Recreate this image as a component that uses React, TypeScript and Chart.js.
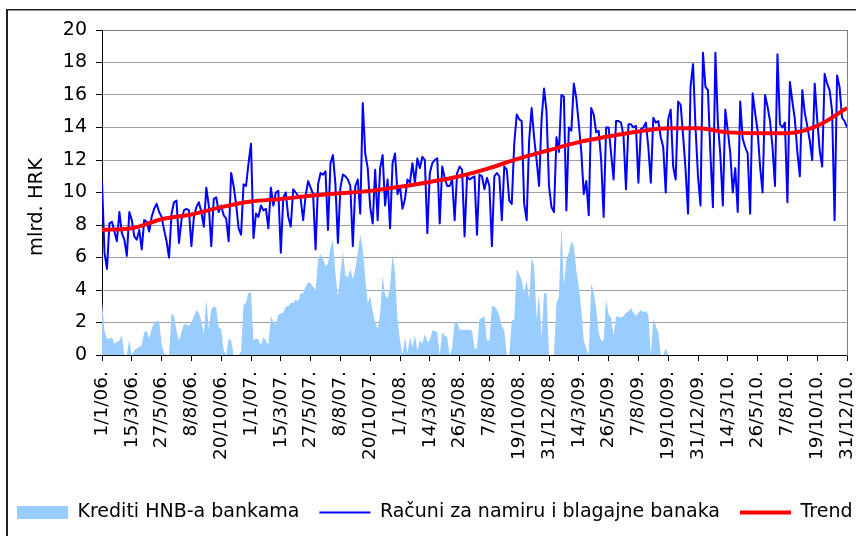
import { useEffect, useRef } from "react";
import { Chart, registerables } from "chart.js";

Chart.register(...registerables);

// x-axis tick labels: one every 73 days from 1/1/06 to 31/12/10
const tickLabels = [
  "1/1/06.", "15/3/06.", "27/5/06.", "8/8/06.", "20/10/06.",
  "1/1/07.", "15/3/07.", "27/5/07.", "8/8/07.", "20/10/07.",
  "1/1/08.", "14/3/08.", "26/5/08.", "7/8/08.", "19/10/08.",
  "31/12/08.", "14/3/09.", "26/5/09.", "7/8/09.", "19/10/09.",
  "31/12/09.", "14/3/10.", "26/5/10.", "7/8/10.", "19/10/10.",
  "31/12/10.",
];

const TICK_DAYS = 73;
const SAMPLES_PER_TICK = 12;

// Računi za namiru i blagajne banaka (mlrd. HRK), 12 readings per tick interval
const racuni = [
  10.7, 6.3, 5.3, 8.1, 8.2, 7.6, 7.0, 8.8, 7.5, 7.1, 6.1, 8.8,
  8.3, 7.3, 7.1, 7.7, 6.5, 8.3, 8.2, 7.6, 8.5, 9.0, 9.3, 8.8,
  8.5, 7.7, 7.0, 6.0, 8.7, 9.4, 9.5, 6.9, 8.3, 8.9, 9.0, 8.9,
  6.7, 8.5, 9.1, 9.4, 8.8, 7.9, 10.3, 9.2, 6.7, 9.6, 9.7, 8.8,
  9.2, 8.6, 8.4, 7.0, 11.2, 10.4, 9.3, 7.8, 7.4, 10.5, 10.4, 11.8,
  13.0, 7.2, 8.7, 8.5, 9.2, 8.9, 9.0, 7.8, 10.3, 9.2, 10.0, 10.1,
  6.3, 9.7, 10.0, 8.5, 7.9, 10.2, 10.0, 9.8, 9.6, 8.3, 9.8, 10.7,
  10.3, 9.9, 6.5, 10.5, 11.2, 11.1, 11.3, 7.7, 11.8, 12.3, 10.5, 6.9,
  10.3, 11.1, 11.0, 10.8, 10.4, 6.7, 10.4, 10.8, 8.7, 15.5, 12.4, 11.5,
  9.1, 8.1, 11.4, 8.3, 11.5, 12.3, 9.2, 10.8, 7.8, 11.8, 12.4, 9.9,
  10.4, 9.0, 9.6, 10.8, 10.6, 11.8, 10.6, 12.1, 11.5, 12.2, 12.0, 7.5,
  11.2, 11.8, 12.0, 12.1, 8.1, 11.6, 10.9, 10.4, 10.4, 10.8, 8.3, 11.2,
  11.6, 11.4, 7.3, 11.0, 10.8, 10.9, 11.0, 7.4, 11.1, 11.0, 10.2, 10.9,
  10.4, 6.7, 11.0, 11.2, 11.0, 8.3, 11.6, 11.4, 9.5, 9.3, 13.0, 14.8,
  14.5, 14.4, 9.3, 8.3, 13.2, 15.2, 13.4, 12.0, 10.4, 14.5, 16.4, 15.0,
  10.4, 9.1, 8.8, 13.4, 12.5, 16.0, 15.9, 8.9, 14.0, 13.8, 16.7, 15.8,
  14.2, 12.5, 9.9, 10.7, 8.6, 15.2, 14.8, 13.7, 13.8, 12.0, 8.5, 14.0,
  14.0, 12.4, 10.8, 14.4, 14.4, 14.3, 13.5, 10.2, 14.2, 14.2, 14.0, 14.1,
  10.6, 13.9, 14.0, 14.3, 12.8, 10.6, 14.6, 14.3, 14.4, 13.4, 12.8, 10.0,
  14.5, 15.1, 11.6, 10.8, 15.6, 15.4, 13.5, 11.4, 8.7, 16.5, 17.9, 14.0,
  11.0, 9.2, 18.6, 16.5, 16.3, 12.4, 9.1, 18.6, 14.3, 12.3, 9.2, 15.1,
  13.8, 12.4, 10.0, 11.5, 8.8, 15.6, 13.3, 12.8, 12.4, 8.7, 16.1, 14.9,
  13.8, 11.6, 10.0, 16.0, 15.3, 14.4, 12.8, 10.4, 18.5, 14.2, 14.0, 14.3,
  9.4, 16.8, 15.6, 14.5, 12.5, 11.0, 16.3, 14.9, 14.1, 13.2, 12.0, 16.7,
  14.5, 12.6, 11.6, 17.3, 16.7, 16.3, 15.0, 8.3, 17.2, 16.5, 14.6, 14.4,
  14.0,
];

// Krediti HNB-a bankama (mlrd. HRK), 12 readings per tick interval, until 19/10/09
const krediti = [
  3.3, 1.5, 1.0, 1.0, 1.1, 0.7, 0.8, 0.9, 1.2, 0, 0, 0.9,
  0, 0.3, 0.4, 0.5, 0.6, 1.4, 1.5, 1.0, 1.6, 2.0, 2.1, 2.1,
  0.7, 0.1, 0, 0, 2.55, 2.4, 1.5, 0.9, 1.4, 1.9, 1.9, 1.8,
  2.0, 2.4, 2.75, 2.6, 2.1, 1.3, 3.4, 1.6, 2.8, 3.0, 2.9, 1.7,
  1.6, 0.3, 0, 1.0, 0.9, 0, 0, 0, 0.2, 3.1, 3.2, 3.85,
  3.85, 0.9, 1.0, 0.95, 0.6, 1.1, 0.9, 0.6, 2.4, 2.0, 1.9, 2.5,
  2.55, 2.6, 3.0, 3.0, 3.2, 3.2, 3.4, 3.3, 3.8, 3.8, 4.2, 4.5,
  4.4, 4.2, 4.0, 5.9, 6.2, 5.9, 5.5, 5.6, 6.6, 7.1, 5.0, 3.6,
  5.0, 6.4, 4.9, 4.8, 5.3, 4.7, 5.3, 6.3, 7.4, 6.5, 4.8, 3.2,
  3.6, 2.7, 2.0, 1.6, 2.5, 4.9, 3.7, 3.5, 4.2, 6.2, 5.0, 2.2,
  0.9, 0, 1.1, 0.1, 1.1, 0.5, 1.2, 0.3, 0.9, 0.7, 1.3, 0.8,
  0.9, 1.5, 1.5, 1.4, 0, 1.4, 1.2, 1.1, 0, 0.4, 2.0, 2.1,
  1.55, 1.55, 1.55, 1.55, 1.55, 1.5, 0.4, 0.4, 2.2, 2.3, 2.4, 0.9,
  0.9, 3.0, 3.0, 2.8, 2.4, 1.8, 1.5, 0, 0, 2.1, 2.2, 5.3,
  5.0, 4.6, 3.8, 4.6, 3.4, 6.0, 5.5, 2.2, 3.8, 1.1, 3.8, 3.8,
  0, 0, 0, 3.2, 3.6, 8.0, 4.3, 5.9, 6.3, 7.0, 6.7, 5.2,
  4.2, 2.8, 0.9, 0.4, 0, 4.4, 3.9, 2.8, 1.4, 0.9, 0.9, 3.4,
  2.5, 2.3, 1.2, 2.35, 2.35, 2.3, 2.4, 2.6, 2.7, 2.9, 2.6, 2.4,
  2.6, 2.75, 2.65, 2.7, 2.5, 0, 2.2, 1.8, 1.4, 0, 0, 0.4,
  0,
];

// Trend, one reading per tick date
const trend = [
  7.7, 7.8, 8.35, 8.65, 9.1, 9.45, 9.6, 9.8, 9.95, 10.1,
  10.35, 10.65, 11.0, 11.5, 12.1, 12.6, 13.1, 13.45, 13.75, 13.95,
  13.95, 13.7, 13.65, 13.65, 14.1, 15.2,
];

const FONT = "'DejaVu Sans', 'Liberation Sans', Arial, sans-serif";
const OX = 3; // canvas is shifted 3px to the left of the page

const framePlugin = {
  id: "frame",
  afterDraw(chart: any) {
    const ctx = chart.ctx as CanvasRenderingContext2D;
    ctx.save();
    ctx.fillStyle = "#222";
    ctx.fillRect(OX + 6, 9, 2, chart.height);
    ctx.fillRect(OX + 6, 9, chart.width, 1.5);
    ctx.translate(OX + 37, 207);
    ctx.rotate(-Math.PI / 2);
    ctx.font = `19.5px ${FONT}`;
    ctx.fillStyle = "#000";
    ctx.textAlign = "center";
    ctx.textBaseline = "middle";
    ctx.fillText("mlrd. HRK", 0, 0);
    ctx.restore();
  },
};

export default function App() {
  const ref = useRef<HTMLCanvasElement | null>(null);

  useEffect(() => {
    if (!ref.current) return;
    const step = TICK_DAYS / SAMPLES_PER_TICK;
    const racuniPts = racuni.map((y, i) => ({ x: i * step, y }));
    const kreditiPts = krediti.map((y, i) => ({ x: i * step, y }));
    const trendPts = trend.map((y, i) => ({ x: i * TICK_DAYS, y }));

    const chart = new Chart(ref.current, {
      type: "line",
      data: {
        datasets: [
          {
            label: "Krediti HNB-a bankama",
            data: kreditiPts,
            fill: "origin",
            backgroundColor: "#99CCFF",
            borderColor: "#99CCFF",
            borderWidth: 0,
            pointRadius: 0,
            pointStyle: "rect",
            order: 3,
          },
          {
            label: "Računi za namiru i blagajne banaka",
            data: racuniPts,
            fill: false,
            borderColor: "#0000FF",
            backgroundColor: "#0000FF",
            borderWidth: 2,
            borderJoinStyle: "round",
            pointRadius: 0,
            pointStyle: "line",
            order: 2,
          },
          {
            label: "Trend",
            data: trendPts,
            fill: false,
            borderColor: "#FF0000",
            backgroundColor: "#FF0000",
            borderWidth: 4,
            cubicInterpolationMode: "monotone",
            pointRadius: 0,
            pointStyle: "line",
            order: 1,
          },
        ],
      },
      options: {
        responsive: false,
        animation: false,
        devicePixelRatio: 1,
        layout: { padding: { left: 0, top: 30, right: 0, bottom: 4 } },
        plugins: {
          legend: {
            position: "bottom",
            align: "start",
            labels: {
              usePointStyle: true,
              pointStyleWidth: 51,
              boxHeight: 13,
              padding: 20,
              color: "#000",
              font: { family: FONT, size: 19 },
              sort: (a: any, b: any) => a.datasetIndex - b.datasetIndex,
            },
          },
          tooltip: { enabled: false },
        },
        scales: {
          x: {
            type: "linear",
            min: 0,
            max: TICK_DAYS * (tickLabels.length - 1),
            ticks: {
              stepSize: TICK_DAYS,
              autoSkip: false,
              maxRotation: 90,
              minRotation: 90,
              padding: 10,
              color: "#000",
              font: { family: FONT, size: 18.5 },
              callback: (v: any) => tickLabels[Math.round(Number(v) / TICK_DAYS)] ?? "",
            },
            grid: {
              drawOnChartArea: false,
              drawTicks: true,
              tickLength: 6,
              tickColor: "#000",
              color: "#000",
            },
            border: { display: true, color: "#000", width: 1 },
            afterFit: (s: any) => {
              s.height = 128;
            },
          },
          y: {
            min: 0,
            max: 20,
            ticks: {
              stepSize: 2,
              padding: 9,
              color: "#000",
              font: { family: FONT, size: 19 },
            },
            grid: {
              color: (c: any) => (c.tick && c.tick.value === 20 ? "#7f7f7f" : "#a0a0a0"),
              tickLength: 6,
              tickColor: "#000",
            },
            border: { display: true, color: "#000", width: 1 },
            afterFit: (s: any) => {
              s.width = 105;
            },
          },
          y2: {
            position: "right",
            display: true,
            grid: { display: false },
            ticks: { display: false },
            border: { display: true, color: "#7f7f7f", width: 1 },
            afterFit: (s: any) => {
              s.width = 110;
            },
          },
        },
      },
      plugins: [framePlugin],
    } as any);

    return () => chart.destroy();
  }, []);

  return (
    <div
      style={{
        position: "absolute",
        left: 0,
        top: 0,
        width: 856,
        height: 536,
        overflow: "hidden",
        background: "#fff",
      }}
    >
      <canvas
        ref={ref}
        width={960}
        height={536}
        style={{ position: "absolute", left: -OX, top: 0, width: 960, height: 536 }}
      />
    </div>
  );
}
